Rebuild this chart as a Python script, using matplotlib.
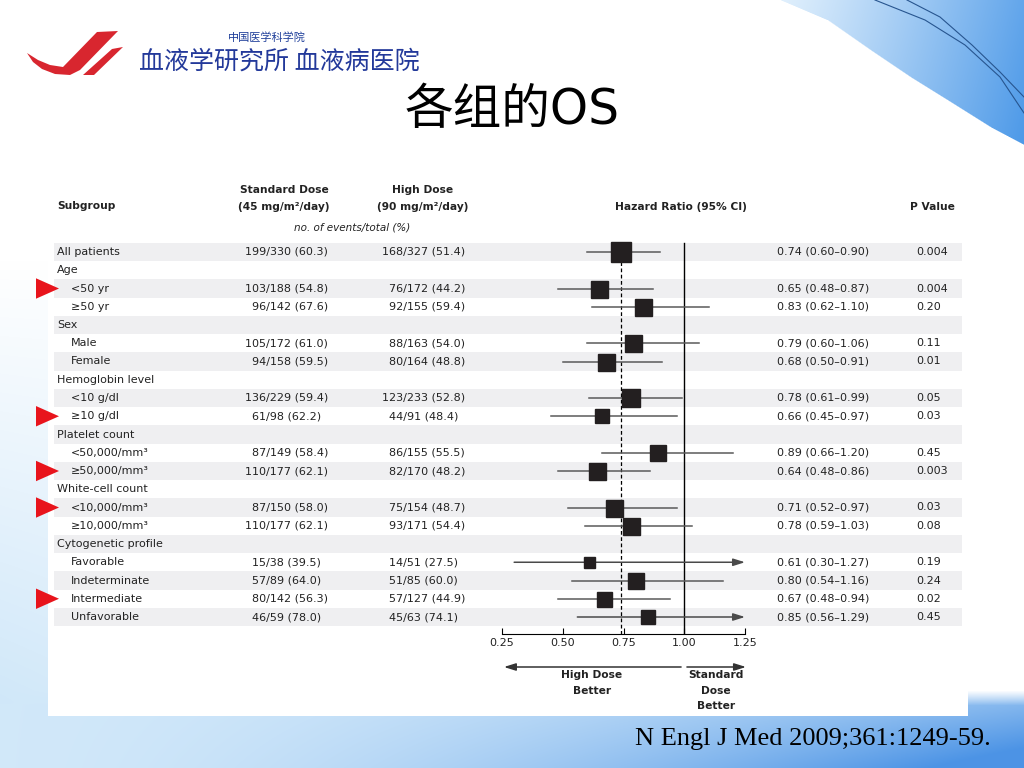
import numpy as np
import matplotlib
matplotlib.use("Agg")
import matplotlib.pyplot as plt
from matplotlib.patches import Polygon, Rectangle

# ---------------- data ----------------
subgroups = ["All patients", "Age", "<50 yr", "≥50 yr", "Sex", "Male", "Female",
             "Hemoglobin level", "<10 g/dl", "≥10 g/dl", "Platelet count",
             "<50,000/mm³", "≥50,000/mm³", "White-cell count", "<10,000/mm³",
             "≥10,000/mm³", "Cytogenetic profile", "Favorable", "Indeterminate",
             "Intermediate", "Unfavorable"]
is_indented = [False, False, True, True, False, True, True, False, True, True, False,
               True, True, False, True, True, False, True, True, True, True]

std_events = [199, None, 103, 96, None, 105, 94, None, 136, 61, None, 87, 110, None, 87, 110, None, 15, 57, 80, 46]
std_totals = [330, None, 188, 142, None, 172, 158, None, 229, 98, None, 149, 177, None, 150, 177, None, 38, 89, 142, 59]
std_pct = [60.3, None, 54.8, 67.6, None, 61.0, 59.5, None, 59.4, 62.2, None, 58.4, 62.1, None, 58.0, 62.1, None, 39.5, 64.0, 56.3, 78.0]

high_events = [168, None, 76, 92, None, 88, 80, None, 123, 44, None, 86, 82, None, 75, 93, None, 14, 51, 57, 45]
high_totals = [327, None, 172, 155, None, 163, 164, None, 233, 91, None, 155, 170, None, 154, 171, None, 51, 85, 127, 63]
high_pct = [51.4, None, 44.2, 59.4, None, 54.0, 48.8, None, 52.8, 48.4, None, 55.5, 48.2, None, 48.7, 54.4, None, 27.5, 60.0, 44.9, 74.1]

hazard_ratio = [0.74, None, 0.65, 0.83, None, 0.79, 0.68, None, 0.78, 0.66, None, 0.89, 0.64, None, 0.71, 0.78, None, 0.61, 0.80, 0.67, 0.85]
ci_low = [0.60, None, 0.48, 0.62, None, 0.60, 0.50, None, 0.61, 0.45, None, 0.66, 0.48, None, 0.52, 0.59, None, 0.30, 0.54, 0.48, 0.56]
ci_high = [0.90, None, 0.87, 1.10, None, 1.06, 0.91, None, 0.99, 0.97, None, 1.20, 0.86, None, 0.97, 1.03, None, 1.27, 1.16, 0.94, 1.29]
p_values = ["0.004", None, "0.004", "0.20", None, "0.11", "0.01", None, "0.05", "0.03", None,
            "0.45", "0.003", None, "0.03", "0.08", None, "0.19", "0.24", "0.02", "0.45"]
overall_hr = 0.74

highlighted = ["<50 yr", "≥10 g/dl", "≥50,000/mm³", "<10,000/mm³", "Intermediate"]

x_ticks = [0.25, 0.50, 0.75, 1.00, 1.25]

# style: box side in pixels
box_px = [20, 0, 17, 17, 0, 17, 17, 0, 18, 14, 0, 16, 17, 0, 17, 17, 0, 11, 16, 15, 14]

# ---------------- layout helpers ----------------
W, H = 1024, 768
fig = plt.figure(figsize=(W / 100, H / 100), dpi=100)
fig.patch.set_facecolor("white")

ROW0, ROWH = 252.0, 18.25


def ry(py):
    return (py - ROW0) / ROWH


def fx(px):
    return px / W


def fy(py):
    return 1 - py / H


# ---------------- background ----------------
bg = fig.add_axes([0, 0, 1, 1], zorder=0)
bg.set_xlim(0, W)
bg.set_ylim(H, 0)
bg.axis("off")

yy, xx = np.mgrid[0:H, 0:W].astype(float)
img = np.ones((H, W, 3))
light = np.array([0.80, 0.90, 0.975])
t = np.clip((yy - 260) / 480, 0, 1) * np.clip(1.0 - xx / 900, 0, 1)
img = img * (1 - t[..., None]) + light * t[..., None]

# bottom band
s = np.clip((yy - 690) / 78, 0, 1)
hz = np.clip(xx / W, 0, 1)
c1 = np.array([0.82, 0.91, 0.98])
c2 = np.array([0.30, 0.58, 0.90])
wb = np.clip(hz ** 1.8 * (0.45 + 0.75 * s), 0, 1)
band = c1 * (1 - wb[..., None]) + c2 * wb[..., None]
mb = np.clip((yy - 690) / 15, 0, 1)
img = img * (1 - mb[..., None]) + band * mb[..., None]

# top-right swoosh
bx = np.array([780, 827, 870, 910, 947, 990, 1024, 1100])
byy = np.array([0, 20, 50, 77, 100, 127, 145, 190])
xb = np.interp(yy, byy, bx)
ms = np.clip((xx - xb) / 2.0, 0, 1)
ws = np.clip((xx - 780) / 244, 0, 1) ** 1.1 * 0.85 + np.clip(yy / 145, 0, 1) * 0.15
ct1 = np.array([0.88, 0.94, 0.99])
ct2 = np.array([0.30, 0.60, 0.91])
sw = ct1 * (1 - ws[..., None]) + ct2 * ws[..., None]
img = img * (1 - ms[..., None]) + sw * ms[..., None]

bg.imshow(img, extent=(0, W, H, 0), aspect="auto", interpolation="bilinear")
bg.plot([875, 925, 965, 1000, 1024], [0, 20, 45, 77, 113], color="#27558f", lw=0.8)
bg.plot([907, 940, 972, 1000, 1024], [0, 17, 45, 72, 97], color="#27558f", lw=0.8)
bg.set_xlim(0, W)
bg.set_ylim(H, 0)

# logo
bg.add_patch(Polygon([(27, 53), (38, 60), (50, 65), (63, 67), (97, 32), (118, 31),
                      (80, 70), (70, 75), (55, 74), (42, 69), (33, 62)],
                     closed=True, color="#d8262f", lw=0))
bg.add_patch(Polygon([(83, 75), (94, 75), (123, 47), (112, 49)], closed=True, color="#d8262f", lw=0))
fig.text(fx(267), fy(37), "中国医学科学院", fontsize=8, color="#1f3f9a",
         family=["Noto Sans CJK SC"], ha="center", va="center")
fig.text(fx(279), fy(62), "血液学研究所 血液病医院", fontsize=18, color="#23399a",
         family=["Noto Sans CJK SC"], ha="center", va="center")

# title
fig.text(fx(512), fy(110), "各组的OS", fontsize=35, color="black",
         family=["DejaVu Sans", "Noto Sans CJK SC"], ha="center", va="center")

# citation
fig.text(fx(991), fy(739), "N Engl J Med 2009;361:1249-59.", fontsize=19,
         family=["Liberation Serif"], ha="right", va="center", color="black")

# ---------------- table panel ----------------
PT, PB, PL, PR = 165, 716, 48, 968
tab = fig.add_axes([fx(PL), fy(PB), (PR - PL) / W, (PB - PT) / H], zorder=1)
tab.set_facecolor("white")
tab.set_xlim(PL, PR)
tab.set_ylim(ry(PB), ry(PT))
for sp in tab.spines.values():
    sp.set_visible(False)
tab.set_xticks([])
tab.set_yticks([])

n = len(subgroups)
for i in range(n):
    if i % 2 == 0:
        tab.add_patch(Rectangle((54, i - 0.5), 962 - 54, 1.0, color="#efeff1", lw=0, zorder=0))

FS = 8
DIGIT_W = 0.6362 * FS * 100 / 72  # DejaVu Sans digit advance in pixels
TC = "#222222"
HF = dict(fontsize=7.7, fontweight="bold", color=TC, family="DejaVu Sans")
tab.text(57, ry(206), "Subgroup", ha="left", va="center", **HF)
tab.text(284, ry(190), "Standard Dose", ha="center", va="center", **HF)
tab.text(284, ry(207), "(45 mg/m²/day)", ha="center", va="center", **HF)
tab.text(423, ry(190), "High Dose", ha="center", va="center", **HF)
tab.text(423, ry(207), "(90 mg/m²/day)", ha="center", va="center", **HF)
tab.text(352, ry(227), "no. of events/total (%)", ha="center", va="center",
         fontsize=7.5, style="italic", color=TC)
tab.text(681, ry(207), "Hazard Ratio (95% CI)", ha="center", va="center", **HF)
tab.text(932, ry(207), "P Value", ha="center", va="center", **HF)

STD_SLASH, HIGH_SLASH = 266, 403
for i in range(n):
    tab.text(71 if is_indented[i] else 57, i, subgroups[i], ha="left", va="center",
             fontsize=FS, color=TC)
    if std_events[i] is not None:
        se = f"{std_events[i]}"
        tab.text(STD_SLASH - len(se) * DIGIT_W, i, f"{se}/{std_totals[i]} ({std_pct[i]:.1f})",
                 ha="left", va="center", fontsize=FS, color=TC)
        he = f"{high_events[i]}"
        tab.text(HIGH_SLASH - len(he) * DIGIT_W, i, f"{he}/{high_totals[i]} ({high_pct[i]:.1f})",
                 ha="left", va="center", fontsize=FS, color=TC)
        tab.text(777, i, f"{hazard_ratio[i]:.2f} ({ci_low[i]:.2f}–{ci_high[i]:.2f})",
                 ha="left", va="center", fontsize=FS, color=TC)
        tab.text(916, i, p_values[i], ha="left", va="center", fontsize=FS, color=TC)
    if subgroups[i] in highlighted:
        tab.add_patch(Polygon([(36, i - 0.56), (36, i + 0.56), (59, i)], closed=True,
                              color="#e8141c", lw=0, clip_on=False, zorder=5))

# ---------------- forest axes ----------------
AX_Y = 634
fo = fig.add_axes([fx(502), fy(AX_Y), (745 - 502) / W, (AX_Y - PT) / H], zorder=2)
fo.set_facecolor("none")
fo.set_xlim(0.25, 1.25)
ybot = ry(AX_Y)
fo.set_ylim(ybot, ry(PT))
for k in ["top", "left", "right"]:
    fo.spines[k].set_visible(False)
fo.spines["bottom"].set_linewidth(0.8)
fo.set_yticks([])
fo.set_xticks(x_ticks)
fo.set_xticklabels([f"{v:.2f}" for v in x_ticks])
fo.tick_params(axis="x", direction="in", length=4, width=0.8, pad=3, labelsize=8,
               labelcolor=TC)

fo.plot([1.0, 1.0], [-0.5, ybot], color="black", lw=1.0, zorder=2)
fo.plot([overall_hr, overall_hr], [-0.5, ybot], color="black", lw=0.9,
        linestyle=(0, (3, 2)), zorder=2)

for i in range(n):
    if hazard_ratio[i] is None:
        continue
    lo, hi = ci_low[i], ci_high[i]
    if hi > 1.25:
        fo.annotate("", xy=(1.25, i), xytext=(lo, i),
                    arrowprops=dict(arrowstyle="-|>,head_length=0.7,head_width=0.22",
                                    color="#4a4a4a", lw=1.1, shrinkA=0, shrinkB=0,
                                    mutation_scale=10),
                    annotation_clip=False, zorder=3)
    else:
        fo.plot([lo, hi], [i, i], color="#5a5a5a", lw=1.1, zorder=3)
    fo.plot(hazard_ratio[i], i, marker="s", ms=box_px[i] * 0.72, color="#231f20",
            mec="#231f20", zorder=4, clip_on=False)

# direction arrows
ya = -(667 - AX_Y) / (AX_Y - PT)
fo.annotate("", xy=(0.258, ya), xytext=(0.987, ya), xycoords=("data", "axes fraction"),
            arrowprops=dict(arrowstyle="-|>,head_length=0.7,head_width=0.22", color="#333333",
                            lw=1.1, shrinkA=0, shrinkB=0, mutation_scale=10),
            annotation_clip=False)
fo.annotate("", xy=(1.254, ya), xytext=(1.011, ya), xycoords=("data", "axes fraction"),
            arrowprops=dict(arrowstyle="-|>,head_length=0.7,head_width=0.22", color="#333333",
                            lw=1.1, shrinkA=0, shrinkB=0, mutation_scale=10),
            annotation_clip=False)


def afrac(py):
    return -(py - AX_Y) / (AX_Y - PT)


tr = fo.get_xaxis_transform()
BF = dict(fontsize=7.7, fontweight="bold", color=TC, ha="center", va="center", transform=tr,
          clip_on=False)
fo.text(0.62, afrac(675), "High Dose", **BF)
fo.text(0.62, afrac(691), "Better", **BF)
fo.text(1.13, afrac(675), "Standard", **BF)
fo.text(1.13, afrac(691), "Dose", **BF)
fo.text(1.13, afrac(706), "Better", **BF)

fig.savefig("out.png", dpi=100)
